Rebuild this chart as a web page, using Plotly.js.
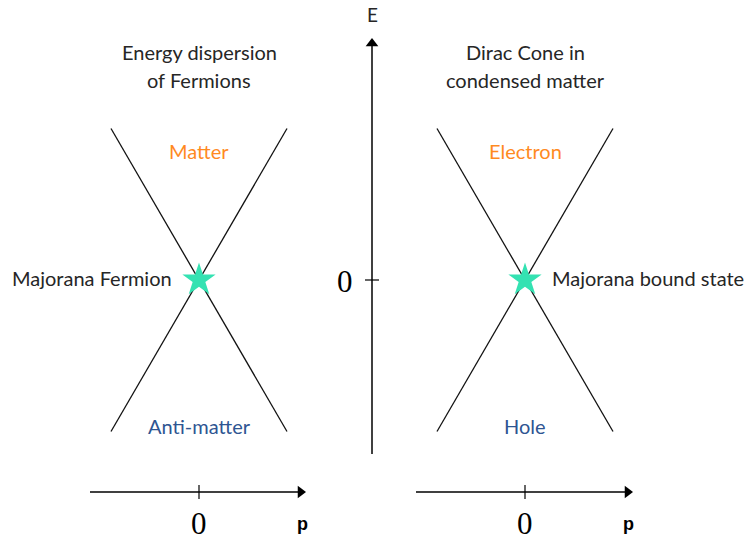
<!DOCTYPE html>
<html><head><meta charset="utf-8">
<script src="https://cdn.plot.ly/plotly-3.0.1.min.js"></script>
<style>html,body{margin:0;padding:0;background:#fff}</style>
</head><body><div id="chart" style="width:745px;height:542px"></div>
<script>
// ---- data ----
const momentum = [-1, 1];
const energyRising = [-1, 1];   // E = +p
const energyFalling = [1, -1];  // E = -p
const crossingP = [0];
const crossingE = [0];
const panelTitles = [['Energy dispersion', 'of Fermions'], ['Dirac Cone in', 'condensed matter']];
const upperBandLabels = ['Matter', 'Electron'];
const lowerBandLabels = ['Anti-matter', 'Hole'];
const crossingLabels = ['Majorana Fermion', 'Majorana bound state'];
const zeroTick = '0';
const energyAxisLabel = 'E';
const momentumAxisLabel = 'p';

// ---- styles ----
const TXT = 'Lato, "Open Sans", sans-serif';
const TXTSIZE = 20;
const ORANGE = '#ff8a1f';
const BLUE = '#2e5592';
const STAR = '#34e2b2';
const INK = '#262626';

const panelAxes = ['x', 'x2'];
const traces = [];
panelAxes.forEach((xa) => {
  traces.push({x: momentum, y: energyRising, xaxis: xa, yaxis: 'y', mode: 'lines',
    line: {color: '#111', width: 1.3}, hoverinfo: 'skip'});
  traces.push({x: momentum, y: energyFalling, xaxis: xa, yaxis: 'y', mode: 'lines',
    line: {color: '#111', width: 1.3}, hoverinfo: 'skip'});
});
// arrowheads (pixel overlay axis)
traces.push({x: [372], y: [43.5], xaxis: 'x3', yaxis: 'y3', mode: 'markers',
  marker: {symbol: 'triangle-up', size: 11, color: '#000'}, hoverinfo: 'skip'});
traces.push({x: [300.5, 627.5], y: [492, 492], xaxis: 'x3', yaxis: 'y3', mode: 'markers',
  marker: {symbol: 'triangle-right', size: 11, color: '#000'}, hoverinfo: 'skip'});
panelAxes.forEach((xa) => {
  traces.push({x: crossingP, y: crossingE, xaxis: xa, yaxis: 'y', mode: 'markers',
    marker: {symbol: 'star', size: 25, color: STAR, line: {width: 0}}, hoverinfo: 'skip'});
});

const hidden = {visible: false, showgrid: false, zeroline: false, fixedrange: true};
const annotations = [];
const ann = (o) => annotations.push(Object.assign({showarrow: false, xanchor: 'center', yanchor: 'middle',
  font: {family: TXT, size: TXTSIZE, color: INK}}, o));

panelAxes.forEach((xa, i) => {
  ann({xref: xa, yref: 'y3', x: 0, y: 52, text: panelTitles[i][0]});
  ann({xref: xa, yref: 'y3', x: 0, y: 80, text: panelTitles[i][1]});
  ann({xref: xa, yref: 'y3', x: 0, y: 151, text: upperBandLabels[i], font: {family: TXT, size: TXTSIZE, color: ORANGE}});
  ann({xref: xa, yref: 'y3', x: 0, y: 426, text: lowerBandLabels[i], font: {family: TXT, size: TXTSIZE, color: BLUE}});
  ann({xref: xa, yref: 'y3', x: 0, y: 523, text: zeroTick, font: {family: '"Liberation Serif", serif', size: 31, color: '#000'}});
});
ann({xref: 'x3', yref: 'y3', x: 174, y: 278, xanchor: 'right', text: crossingLabels[0]});
ann({xref: 'x3', yref: 'y3', x: 550, y: 278, xanchor: 'left', text: crossingLabels[1]});
ann({xref: 'x3', yref: 'y3', x: 345, y: 281, text: zeroTick, font: {family: '"Liberation Serif", serif', size: 31, color: '#000'}});
ann({xref: 'x3', yref: 'y3', x: 372, y: 14, text: energyAxisLabel, font: {family: TXT, size: 19, color: INK}});
ann({xref: 'x3', yref: 'y3', x: 302, y: 524, text: '<b>' + momentumAxisLabel + '</b>', font: {family: '"Liberation Sans", Arial, sans-serif', size: 18, color: '#000'}});
ann({xref: 'x3', yref: 'y3', x: 628, y: 524, text: '<b>' + momentumAxisLabel + '</b>', font: {family: '"Liberation Sans", Arial, sans-serif', size: 18, color: '#000'}});

const ln = {color: '#000', width: 1.5};
const shapes = [
  {type: 'line', xref: 'x3', yref: 'y3', x0: 372, x1: 372, y0: 454, y1: 45, line: ln},
  {type: 'line', xref: 'x3', yref: 'y3', x0: 365, x1: 379, y0: 280, y1: 280, line: {color: '#000', width: 1.2}},
  {type: 'line', xref: 'x3', yref: 'y3', x0: 90, x1: 298, y0: 492, y1: 492, line: ln},
  {type: 'line', xref: 'x3', yref: 'y3', x0: 416, x1: 625, y0: 492, y1: 492, line: ln},
  {type: 'line', xref: 'x', yref: 'y3', x0: 0, x1: 0, y0: 485, y1: 499, line: {color: '#000', width: 1.2}},
  {type: 'line', xref: 'x2', yref: 'y3', x0: 0, x1: 0, y0: 485, y1: 499, line: {color: '#000', width: 1.2}}
];

const layout = {
  width: 745, height: 542, margin: {l: 0, r: 0, t: 0, b: 0},
  paper_bgcolor: '#fff', plot_bgcolor: '#fff', showlegend: false,
  xaxis: Object.assign({range: [-199 / 88, 546 / 88]}, hidden),
  xaxis2: Object.assign({range: [-525 / 88, 220 / 88], overlaying: 'x'}, hidden),
  xaxis3: Object.assign({range: [0, 745], overlaying: 'x'}, hidden),
  yaxis: Object.assign({range: [-262 / 151.5, 280 / 151.5]}, hidden),
  yaxis3: Object.assign({range: [542, 0], overlaying: 'y'}, hidden),
  annotations: annotations,
  shapes: shapes
};
Plotly.newPlot('chart', traces, layout, {staticPlot: true, displayModeBar: false});
</script></body></html>
